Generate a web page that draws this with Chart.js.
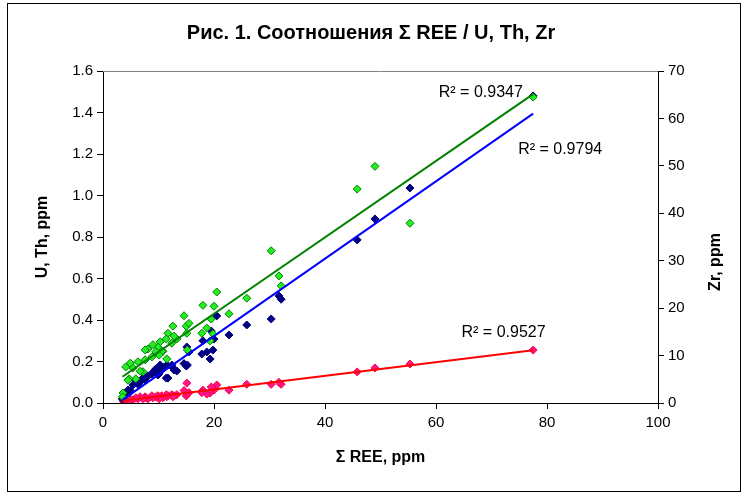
<!DOCTYPE html>
<html>
<head>
<meta charset="utf-8">
<script src="https://cdn.jsdelivr.net/npm/chart.js@4/dist/chart.umd.min.js"></script>
<style>
  html, body { margin: 0; padding: 0; background: #fff; }
  #wrap { position: relative; width: 742px; height: 492px; }
  #frame { position: absolute; left: 7px; top: 3px; width: 734px; height: 489px; box-sizing: border-box; border: 1px solid #000; pointer-events: none; }
  canvas { position: absolute; left: 0; top: 0; }
</style>
</head>
<body>
<div id="wrap">
  <canvas id="grafico" width="742" height="492"></canvas>
  <div id="frame"></div>
</div>
<script>
// Σ REE, ppm (ось X) – общая для всех проб
var sumREE = [77.5, 55.3, 49.0, 45.8, 32.1, 31.7, 30.3, 25.9, 22.7, 20.5, 20.0, 19.8, 19.5, 19.3, 18.7, 18.0, 17.8,
              15.1, 15.0, 15.5, 14.6, 15.2, 13.3, 12.8, 12.4, 12.6, 11.7, 11.5, 11.4, 10.8, 10.6, 10.3, 10.1, 9.9,
              9.5, 9.0, 8.8, 8.1, 7.6, 7.6, 7.2, 6.7, 6.3, 5.9, 5.4, 4.9, 4.7, 4.5, 4.1, 3.6, 3.5];
// Th, ppm (синие)
var thVals = [1.48, 1.036, 0.887, 0.786, 0.50, 0.516, 0.405, 0.376, 0.328, 0.42, 0.308, 0.255, 0.347, 0.212, 0.246, 0.30, 0.236,
              0.27, 0.178, 0.246, 0.19, 0.183, 0.154, 0.159, 0.183, 0.17, 0.12, 0.183, 0.12, 0.173, 0.16, 0.183, 0.14, 0.135,
              0.164, 0.149, 0.14, 0.13, 0.12, 0.11, 0.12, 0.101, 0.09, 0.111, 0.087, 0.06, 0.048, 0.063, 0.04, 0.029, 0.02];
// U, ppm (красные)
var uVals = [0.255, 0.188, 0.169, 0.15, 0.09, 0.10, 0.09, 0.09, 0.062, 0.087, 0.062, 0.07, 0.077, 0.048, 0.043, 0.062, 0.05,
             0.096, 0.034, 0.05, 0.06, 0.045, 0.04, 0.035, 0.04, 0.03, 0.035, 0.03, 0.04, 0.025, 0.035, 0.03, 0.02, 0.035,
             0.03, 0.025, 0.035, 0.02, 0.03, 0.025, 0.02, 0.03, 0.02, 0.025, 0.015, 0.02, 0.01, 0.02, 0.015, 0.01, 0.02];
// Zr, ppm (зелёные, правая ось)
var zrVals = [64.5, 37.9, 49.9, 45.1, 24.7, 26.8, 32.1, 22.1, 18.8, 23.4, 20.4, 14.6, 17.7, 13.1, 15.8, 20.6, 14.7,
              14.7, 16.2, 16.8, 18.4, 11.2, 13.5, 14.1, 12.6, 16.2, 14.7, 9.3, 13.5, 10.9, 10.9, 12.9, 10.1, 11.8,
              10.8, 12.3, 9.7, 11.4, 11.2, 9.1, 6.6, 6.7, 8.7, 5.1, 7.4, 8.4, 5.1, 4.8, 7.6, 2.1, 1.3];
// Подписи R²
var r2Labels = ['R² = 0.9347', 'R² = 0.9794', 'R² = 0.9527'];
var r2Pos = [[60.5, 1.494, 'y'], [74.8, 1.22, 'y'], [64.6, 0.337, 'y']];

function pontos(xs, ys) {
    return xs.map(function (x, i) { return { x: x, y: ys[i] }; });
}

// Линейный тренд (метод наименьших квадратов)
function tendencia(xs, ys) {
    var n = xs.length, sx = 0, sy = 0, sxx = 0, sxy = 0;
    for (var i = 0; i < n; i++) {
        sx += xs[i]; sy += ys[i]; sxx += xs[i] * xs[i]; sxy += xs[i] * ys[i];
    }
    var a = (n * sxy - sx * sy) / (n * sxx - sx * sx);
    var b = (sy - a * sx) / n;
    var x0 = Math.min.apply(null, xs), x1 = Math.max.apply(null, xs);
    return [{ x: x0, y: a * x0 + b }, { x: x1, y: a * x1 + b }];
}

var extras = {
    id: 'extras',
    afterDraw: function (chart) {
        var ctx = chart.ctx, area = chart.chartArea;
        ctx.save();
        // верхняя рамка области построения
        ctx.strokeStyle = '#808080';
        ctx.lineWidth = 1;
        ctx.beginPath();
        ctx.moveTo(area.left, area.top + 0.5);
        ctx.lineTo(area.right, area.top + 0.5);
        ctx.stroke();
        // подписи R²
        ctx.fillStyle = '#000';
        ctx.font = '16px "Liberation Sans", Arial, sans-serif';
        ctx.textAlign = 'left';
        ctx.textBaseline = 'middle';
        for (var i = 0; i < r2Labels.length; i++) {
            var px = chart.scales.x.getPixelForValue(r2Pos[i][0]);
            var py = chart.scales[r2Pos[i][2]].getPixelForValue(r2Pos[i][1]);
            ctx.fillText(r2Labels[i], px, py);
        }
        // заголовок правой оси
        ctx.font = 'bold 16px "Liberation Sans", Arial, sans-serif';
        ctx.textAlign = 'center';
        ctx.translate(716, 262);
        ctx.rotate(-Math.PI / 2);
        ctx.fillText('Zr, ppm', 0, 0);
        ctx.restore();
    }
};

var fonte = { family: '"Liberation Sans", Arial, sans-serif', size: 15 };
var fonteNegrito = { family: '"Liberation Sans", Arial, sans-serif', size: 16, weight: 'bold' };

var ctx = document.getElementById('grafico').getContext('2d');
var myChart = new Chart(ctx, {
    type: 'scatter',
    data: {
        datasets: [
            { label: 'Zr тренд', data: tendencia(sumREE, zrVals), yAxisID: 'y1', showLine: true,
              borderColor: '#008000', borderWidth: 2, pointRadius: 0, order: 0 },
            { label: 'Th тренд', data: tendencia(sumREE, thVals), yAxisID: 'y', showLine: true,
              borderColor: '#0000ff', borderWidth: 2, pointRadius: 0, order: 0 },
            { label: 'U тренд', data: tendencia(sumREE, uVals), yAxisID: 'y', showLine: true,
              borderColor: '#ff0000', borderWidth: 2, pointRadius: 0, order: 0 },
            { label: 'U', data: pontos(sumREE, uVals), yAxisID: 'y', pointStyle: 'rectRot', pointRadius: 4,
              backgroundColor: '#ff1493', borderColor: '#ff0033', borderWidth: 1, order: 3 },
            { label: 'Th', data: pontos(sumREE, thVals), yAxisID: 'y', pointStyle: 'rectRot', pointRadius: 4,
              backgroundColor: '#000080', borderColor: '#000080', borderWidth: 1, order: 2 },
            { label: 'Zr', data: pontos(sumREE, zrVals), yAxisID: 'y1', pointStyle: 'rectRot', pointRadius: 4,
              backgroundColor: '#22ee22', borderColor: '#008000', borderWidth: 1, order: 1 }
        ]
    },
    options: {
        responsive: false,
        animation: false,
        layout: { padding: { left: 0, right: 0, top: 0, bottom: 0 } },
        plugins: {
            legend: { display: false },
            tooltip: { enabled: false },
            title: {
                display: true,
                text: 'Рис. 1. Соотношения Σ REE / U, Th, Zr',
                color: '#000',
                font: { family: '"Liberation Sans", Arial, sans-serif', size: 20, weight: 'bold', lineHeight: 1.2 },
                padding: { top: 21, bottom: 26 }
            }
        },
        scales: {
            x: {
                type: 'linear', min: 0, max: 100,
                ticks: { stepSize: 20, color: '#000', font: fonte, padding: 5 },
                grid: { display: true, drawOnChartArea: false, tickLength: 6, color: '#000' },
                border: { color: '#000', width: 1 },
                title: { display: true, text: 'Σ REE, ppm', color: '#000', font: fonteNegrito, padding: { top: 25, bottom: 25 } },
                afterFit: function (s) { s.height = 89; }
            },
            y: {
                type: 'linear', position: 'left', min: 0, max: 1.6,
                ticks: { stepSize: 0.2, color: '#000', font: fonte, padding: 4,
                         callback: function (v) { return v.toFixed(1); } },
                grid: { display: true, drawOnChartArea: false, tickLength: 6, color: '#000' },
                border: { color: '#000', width: 1 },
                title: { display: true, text: 'U, Th, ppm', color: '#000', font: fonteNegrito, padding: { top: 33, bottom: 33 } },
                afterFit: function (s) { s.width = 103; }
            },
            y1: {
                type: 'linear', position: 'right', min: 0, max: 70,
                ticks: { stepSize: 10, color: '#000', font: fonte, padding: 4 },
                grid: { display: true, drawOnChartArea: false, tickLength: 6, color: '#000' },
                border: { color: '#000', width: 1 },
                afterFit: function (s) { s.width = 84; }
            }
        }
    },
    plugins: [extras]
});
</script>
</body>
</html>
